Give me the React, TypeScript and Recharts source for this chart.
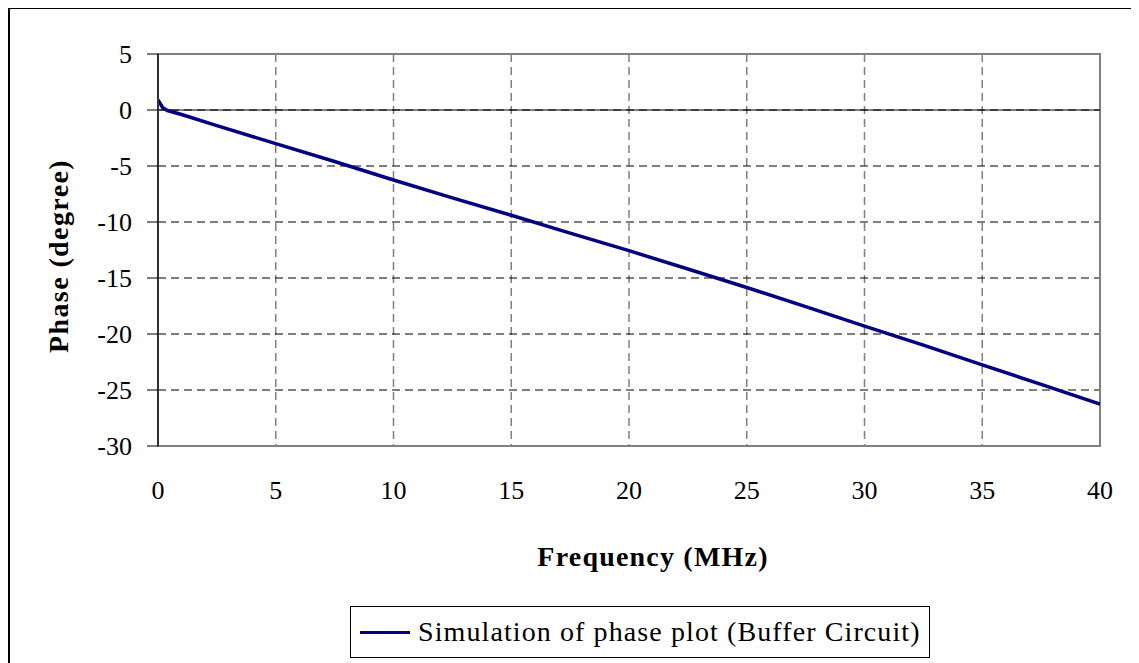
import React from 'react';
import {
  LineChart, Line, XAxis, YAxis, CartesianGrid, ReferenceLine, ReferenceArea, Legend,
} from 'recharts';

const freqMHz = [0, 0.2, 0.4, 1, 2.5, 5, 7.5, 10, 12.5, 15, 17.5, 20, 22.5, 25, 27.5, 30, 32.5, 35, 37.5, 40];
const phaseDeg = [0.9, 0.2, -0.05, -0.4, -1.4, -3.0, -4.6, -6.25, -7.85, -9.4, -11.0, -12.56, -14.2, -15.85, -17.55, -19.3, -21.0, -22.75, -24.5, -26.25];
const xTicks = [0, 5, 10, 15, 20, 25, 30, 35, 40];
const yTicks = [-30, -25, -20, -15, -10, -5, 0, 5];
const seriesName = 'Simulation of phase plot (Buffer Circuit)';
const xTitle = 'Frequency (MHz)';
const yTitle = 'Phase (degree)';

const data = freqMHz.map((f, i) => ({ f, phase: phaseDeg[i] }));

const FONT = '"Liberation Serif", "Times New Roman", serif';

const LegendBox = () => (
  <div
    style={{
      display: 'inline-flex',
      alignItems: 'center',
      boxSizing: 'border-box',
      height: 52,
      border: '1.5px solid #000',
      padding: '0 8px 0 9px',
      background: '#fff',
      fontFamily: FONT,
      fontSize: 28,
      letterSpacing: 1.1,
      color: '#000',
      whiteSpace: 'nowrap',
    }}
  >
    <span style={{ display: 'inline-block', width: 50, height: 3, background: '#000080', marginRight: 8 }} />
    <span>{seriesName}</span>
  </div>
);

const YTitle = (props: any) => {
  const vb = props.viewBox || {};
  const cx = vb.x + 48;
  const cy = vb.y + vb.height / 2 + 6;
  return (
    <text
      x={cx}
      y={cy}
      transform={`rotate(-90, ${cx}, ${cy})`}
      textAnchor="middle"
      dominantBaseline="central"
      fontFamily={FONT}
      fontWeight="bold"
      fontSize={28}
      letterSpacing={1.4}
      fill="#000"
    >
      {yTitle}
    </text>
  );
};

const XTitle = (props: any) => {
  const vb = props.viewBox || {};
  const cx = vb.x + vb.width / 2 + 24;
  const cy = vb.y + 110;
  return (
    <text
      x={cx}
      y={cy}
      textAnchor="middle"
      dominantBaseline="central"
      fontFamily={FONT}
      fontWeight="bold"
      fontSize={28}
      letterSpacing={1.2}
      fill="#000"
    >
      {xTitle}
    </text>
  );
};

export default function App() {
  return (
    <div
      style={{
        marginTop: -1,
        width: 1125,
        height: 668,
        border: '2px solid #000',
        position: 'relative',
        background: '#fff',
      }}
    >
      <LineChart
        width={1125}
        height={650}
        data={data}
        margin={{ top: 45, right: 35, left: 0, bottom: 63 }}
      >
        <CartesianGrid horizontal={false} vertical stroke="#808080" strokeWidth={1.5} strokeDasharray="8 5" verticalValues={xTicks} />
        <CartesianGrid horizontal vertical={false} stroke="#000" strokeWidth={1} strokeDasharray="8 5" horizontalValues={yTicks} />
        <ReferenceArea x1={0} x2={40} y1={-30} y2={5} fill="none" stroke="#808080" strokeWidth={2} ifOverflow="visible" />
        <ReferenceLine y={0} stroke="#000" strokeWidth={1.2} />
        <XAxis
          type="number"
          dataKey="f"
          domain={[0, 40]}
          ticks={xTicks}
          allowDataOverflow
          height={150}
          axisLine={{ stroke: '#808080', strokeWidth: 2 }}
          tickLine={false}
          tickSize={6}
          tickMargin={29}
          tick={{ fontFamily: FONT, fontSize: 26, fill: '#000' }}
          label={{ content: XTitle }}
        />
        <YAxis
          type="number"
          domain={[-30, 5]}
          ticks={yTicks}
          allowDataOverflow
          width={148}
          axisLine={{ stroke: '#333', strokeWidth: 2 }}
          tickLine={{ stroke: '#000', strokeWidth: 1 }}
          tickSize={11}
          tickMargin={15}
          tick={{ fontFamily: FONT, fontSize: 26, fill: '#000' }}
          label={{ content: YTitle }}
        />
        <Legend
          layout="horizontal"
          verticalAlign="middle"
          align="center"
          wrapperStyle={{ top: 597, left: 340, width: 'auto' }}
          content={() => <LegendBox />}
        />
        <Line
          type="linear"
          dataKey="phase"
          name={seriesName}
          stroke="#000080"
          strokeWidth={3.5}
          dot={false}
          isAnimationActive={false}
        />
      </LineChart>
    </div>
  );
}
